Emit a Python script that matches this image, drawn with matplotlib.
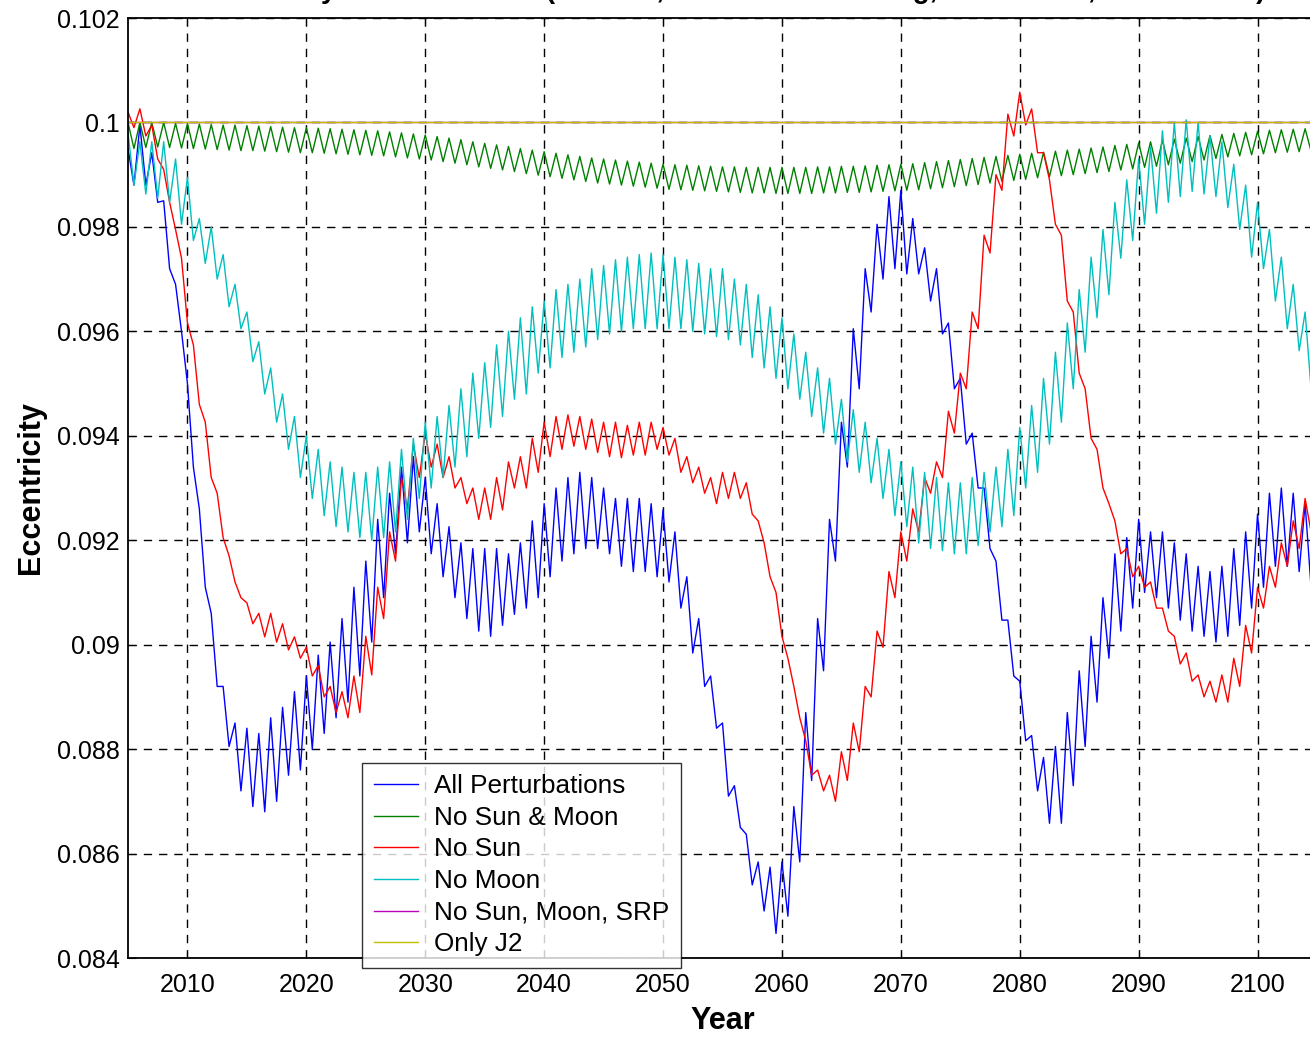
import numpy as np
import matplotlib
matplotlib.use("Agg")
import matplotlib.pyplot as plt
from matplotlib.lines import Line2D

plt.rcParams['font.family'] = ['Liberation Sans', 'DejaVu Sans']

# one high and one low reading per year, eccentricity in units of 1e-3
years = list(range(2005, 2105))

all_pert_hi = [99.5, 99.95, 99.42, 98.5, 96.9, 95.0, 92.6, 90.6, 89.2, 88.5,
               88.4, 88.3, 88.6, 88.8, 89.1, 89.4, 89.8, 90.05, 90.5, 91.1,
               91.6, 92.4, 92.9, 93.4, 93.6, 93.2, 92.7, 92.26, 91.95, 91.84,
               91.84, 91.84, 91.74, 91.95, 92.37, 92.7, 93.0, 93.2, 93.3, 93.2,
               93.0, 92.8, 92.8, 92.8, 92.7, 92.58, 92.16, 91.3, 90.5, 89.4,
               88.5, 87.3, 86.37, 85.84, 85.74, 85.84, 86.9, 88.7, 90.5, 92.4,
               94.26, 96.05, 97.2, 98.05, 98.58, 98.7, 98.16, 97.6, 97.2, 96.16,
               95.1, 94.05, 93.0, 91.6, 90.47, 89.3, 88.26, 87.84, 88.05, 88.7,
               89.5, 90.16, 90.9, 91.74, 92.05, 92.4, 92.16, 92.16, 91.95, 91.74,
               91.5, 91.4, 91.5, 91.84, 92.16, 92.5, 92.9, 93.0, 92.9, 92.7]
all_pert_lo = [98.8, 98.8, 98.47, 97.2, 96.0, 93.4, 91.1, 89.2, 88.05, 87.2,
               86.9, 86.8, 87.0, 87.5, 87.6, 88.0, 88.3, 88.6, 88.9, 89.4,
               90.05, 90.9, 91.74, 91.95, 92.16, 91.74, 91.3, 90.9, 90.5, 90.26,
               90.16, 90.37, 90.58, 90.7, 90.9, 91.3, 91.6, 91.74, 91.84, 91.84,
               91.74, 91.5, 91.4, 91.4, 91.3, 91.2, 90.7, 89.84, 89.2, 88.4,
               87.1, 86.5, 85.4, 84.9, 84.47, 84.8, 85.84, 87.4, 89.5, 91.6,
               93.4, 94.9, 96.37, 97.0, 97.2, 97.1, 97.1, 96.58, 95.95, 94.9,
               93.84, 93.0, 91.84, 90.47, 89.4, 88.16, 87.2, 86.58, 86.58, 87.3,
               88.05, 88.9, 89.74, 90.26, 90.7, 91.0, 90.9, 90.7, 90.47, 90.26,
               90.16, 90.05, 90.16, 90.37, 90.7, 91.1, 91.5, 91.5, 91.4, 91.1]

no_sun_moon_hi = [100.0, 100.0, 100.0, 100.0, 99.98, 99.98, 99.97, 99.96, 99.95, 99.95,
                  99.94, 99.93, 99.92, 99.91, 99.90, 99.90, 99.89, 99.88, 99.87, 99.86,
                  99.85, 99.84, 99.82, 99.80, 99.78, 99.76, 99.73, 99.70, 99.67, 99.63,
                  99.60, 99.57, 99.54, 99.50, 99.47, 99.44, 99.41, 99.38, 99.35, 99.32,
                  99.30, 99.28, 99.26, 99.24, 99.22, 99.20, 99.19, 99.18, 99.17, 99.16,
                  99.15, 99.15, 99.14, 99.14, 99.14, 99.14, 99.14, 99.14, 99.15, 99.15,
                  99.16, 99.16, 99.17, 99.18, 99.19, 99.20, 99.21, 99.23, 99.25, 99.27,
                  99.29, 99.31, 99.33, 99.35, 99.37, 99.39, 99.41, 99.43, 99.45, 99.47,
                  99.49, 99.51, 99.53, 99.56, 99.58, 99.61, 99.63, 99.66, 99.68, 99.70,
                  99.73, 99.75, 99.77, 99.79, 99.81, 99.83, 99.85, 99.86, 99.87, 99.88]
no_sun_moon_lo = [99.50, 99.52, 99.53, 99.52, 99.51, 99.50, 99.49, 99.48, 99.47, 99.46,
                  99.46, 99.45, 99.44, 99.43, 99.42, 99.42, 99.41, 99.40, 99.39, 99.38,
                  99.37, 99.36, 99.34, 99.32, 99.30, 99.28, 99.25, 99.22, 99.19, 99.15,
                  99.12, 99.09, 99.06, 99.02, 98.99, 98.96, 98.93, 98.90, 98.87, 98.84,
                  98.82, 98.80, 98.78, 98.76, 98.74, 98.72, 98.71, 98.70, 98.69, 98.68,
                  98.67, 98.66, 98.65, 98.65, 98.64, 98.64, 98.64, 98.64, 98.65, 98.65,
                  98.66, 98.66, 98.67, 98.68, 98.69, 98.70, 98.71, 98.73, 98.75, 98.77,
                  98.79, 98.81, 98.84, 98.87, 98.89, 98.91, 98.94, 98.96, 98.98, 99.00,
                  99.02, 99.04, 99.06, 99.09, 99.11, 99.14, 99.16, 99.19, 99.22, 99.25,
                  99.28, 99.31, 99.34, 99.36, 99.38, 99.40, 99.42, 99.43, 99.44, 99.45]

no_sun_hi = [100.2, 100.26, 99.95, 99.1, 97.95, 96.16, 94.6, 93.2, 92.05, 91.2,
             90.8, 90.6, 90.6, 90.4, 90.15, 89.95, 89.6, 89.2, 89.1, 89.4,
             90.16, 91.1, 92.16, 93.2, 93.84, 94.05, 93.84, 93.6, 93.2, 93.0,
             93.0, 93.2, 93.5, 93.6, 93.95, 94.26, 94.37, 94.4, 94.37, 94.32,
             94.26, 94.26, 94.2, 94.26, 94.26, 94.16, 93.95, 93.6, 93.4, 93.2,
             93.3, 93.3, 93.1, 92.37, 91.3, 90.16, 89.2, 88.16, 87.6, 87.5,
             87.95, 88.5, 89.2, 90.26, 91.4, 92.16, 92.6, 93.2, 93.5, 94.47,
             95.2, 96.37, 97.84, 99.0, 100.16, 100.58, 100.26, 99.42, 98.05, 96.58,
             95.2, 93.95, 93.0, 92.37, 91.84, 91.5, 91.2, 90.7, 90.16, 89.84,
             89.42, 89.3, 89.42, 89.74, 90.37, 91.1, 91.5, 91.95, 92.37, 92.8]
no_sun_lo = [99.9, 99.74, 99.3, 98.47, 97.4, 95.74, 94.26, 92.9, 91.7, 90.9,
             90.4, 90.15, 90.05, 89.9, 89.74, 89.4, 89.0, 88.7, 88.6, 88.7,
             89.42, 90.5, 91.6, 92.6, 93.2, 93.4, 93.2, 93.0, 92.7, 92.4,
             92.4, 92.58, 93.0, 93.0, 93.3, 93.6, 93.74, 93.8, 93.74, 93.68,
             93.6, 93.58, 93.63, 93.63, 93.74, 93.63, 93.3, 93.1, 92.9, 92.7,
             92.8, 92.8, 92.5, 91.95, 91.0, 89.74, 88.6, 87.5, 87.2, 87.0,
             87.4, 87.95, 89.0, 89.95, 90.9, 91.6, 92.16, 92.9, 93.2, 94.05,
             94.9, 96.05, 97.5, 98.7, 99.74, 99.95, 99.42, 98.9, 97.84, 96.37,
             94.9, 93.74, 92.7, 91.74, 91.3, 91.1, 90.7, 90.26, 89.63, 89.3,
             89.0, 88.9, 88.9, 89.2, 89.84, 90.7, 91.1, 91.5, 91.84, 92.16]

no_moon_hi = [99.8, 99.63, 99.63, 99.63, 99.3, 98.95, 98.16, 98.0, 97.47, 96.9,
              96.37, 95.8, 95.3, 94.8, 94.37, 94.0, 93.74, 93.5, 93.4, 93.3,
              93.3, 93.4, 93.5, 93.74, 93.95, 94.26, 94.37, 94.58, 94.9, 95.2,
              95.4, 95.74, 96.0, 96.26, 96.47, 96.58, 96.8, 96.9, 97.0, 97.2,
              97.26, 97.37, 97.42, 97.47, 97.5, 97.47, 97.42, 97.37, 97.3, 97.2,
              97.2, 97.0, 96.9, 96.7, 96.47, 96.26, 95.95, 95.6, 95.3, 95.1,
              94.7, 94.5, 94.26, 93.95, 93.74, 93.5, 93.4, 93.3, 93.2, 93.1,
              93.1, 93.2, 93.3, 93.4, 93.74, 94.16, 94.58, 95.1, 95.6, 96.16,
              96.8, 97.42, 97.95, 98.47, 98.9, 99.3, 99.53, 99.84, 100.0, 100.05,
              100.0, 99.74, 99.63, 99.2, 98.8, 98.47, 97.95, 97.42, 96.9, 96.37]
no_moon_lo = [98.8, 98.63, 98.55, 98.47, 98.05, 97.74, 97.3, 97.0, 96.47, 96.05,
              95.42, 94.8, 94.26, 93.74, 93.2, 92.8, 92.47, 92.26, 92.16, 92.05,
              92.0, 92.05, 92.16, 92.4, 92.8, 93.0, 93.2, 93.4, 93.6, 93.95,
              94.16, 94.37, 94.7, 94.8, 95.2, 95.3, 95.5, 95.6, 95.7, 95.84,
              95.95, 96.0, 96.05, 96.05, 96.05, 96.05, 96.05, 96.0, 95.95, 95.9,
              95.84, 95.74, 95.5, 95.3, 95.1, 94.9, 94.7, 94.37, 94.05, 93.84,
              93.5, 93.3, 93.1, 92.8, 92.47, 92.26, 91.95, 91.84, 91.8, 91.74,
              91.74, 91.9, 92.16, 92.26, 92.47, 93.0, 93.3, 93.84, 94.26, 94.9,
              95.6, 96.26, 96.7, 97.4, 97.74, 98.05, 98.26, 98.47, 98.58, 98.68,
              98.63, 98.58, 98.37, 97.95, 97.42, 97.2, 96.58, 96.05, 95.63, 94.9]

# these two stay on the initial value
no_sun_moon_srp = [100.0] * len(years)
only_j2 = [100.0] * len(years)

labels = ['All Perturbations', 'No Sun & Moon', 'No Sun', 'No Moon',
          'No Sun, Moon, SRP', 'Only J2']
colors = ['b', (0, 0.5, 0), 'r', 'c', 'm', (0.75, 0.75, 0)]

ytick_vals = [0.084, 0.086, 0.088, 0.090, 0.092, 0.094, 0.096, 0.098, 0.100, 0.102]
ytick_labels = ['0.084', '0.086', '0.088', '0.09', '0.092', '0.094', '0.096',
                '0.098', '0.1', '0.102']
xtick_vals = list(range(2010, 2101, 10))

title = 'Eccentricity over 100 Years (e0 = 0.1, Inclination 63.4 deg, h = 650 km, A/m = 0.020)'


def zigzag(hi, lo):
    # high reading at the start of each year, low reading half a year later
    t = []
    e = []
    for y, h, l in zip(years, hi, lo):
        t += [y, y + 0.5]
        e += [h / 1000.0, l / 1000.0]
    return t, e


fig = plt.figure(figsize=(13.1, 10.37), dpi=100)
ax = fig.add_axes([128 / 1310, 1 - 958 / 1037, 1189 / 1310, 940 / 1037])

series = [(all_pert_hi, all_pert_lo), (no_sun_moon_hi, no_sun_moon_lo),
          (no_sun_hi, no_sun_lo), (no_moon_hi, no_moon_lo)]
for (hi, lo), c in zip(series, colors[:4]):
    t, e = zigzag(hi, lo)
    ax.plot(t, e, color=c, lw=1.0)
ax.plot(years + [2105], [v / 1000 for v in no_sun_moon_srp] + [0.1], color=colors[4], lw=1.0)
ax.plot(years + [2105], [v / 1000 for v in only_j2] + [0.1], color=colors[5], lw=1.0)

ax.set_xlim(2005, 2105)
ax.set_ylim(0.084, 0.102)
ax.set_xticks(xtick_vals)
ax.set_yticks(ytick_vals)
ax.set_yticklabels(ytick_labels)
ax.tick_params(direction='in', length=6, top=True, right=True, labelsize=18)
ax.tick_params(axis='x', pad=11)
ax.tick_params(axis='y', pad=6)
ax.grid(True, color='k', linestyle=(0, (6, 5)), lw=1.0)
for s in ax.spines.values():
    s.set_linewidth(1.3)

ax.set_xlabel('Year', fontsize=22, fontweight='bold', labelpad=6)
ax.set_ylabel('Eccentricity', fontsize=22, fontweight='bold', labelpad=8)

# the title sits above the top edge, only its descenders reach into the image
fig.text(0.551, 1 + 2 / 1037, title, ha='center', va='baseline',
         fontsize=20, fontweight='bold')

handles = [Line2D([], [], color=c, lw=1.0) for c in colors]
leg = ax.legend(handles, labels, loc='lower left', bbox_to_anchor=(0.1968, -0.0106),
                borderaxespad=0, fontsize=18.8, frameon=True, fancybox=False,
                handlelength=1.7, handletextpad=0.6, labelspacing=0.29,
                borderpad=0.45)
leg.get_frame().set_edgecolor('k')
leg.get_frame().set_linewidth(1.0)
leg.set_zorder(5)

fig.savefig('out.png', dpi=100)
